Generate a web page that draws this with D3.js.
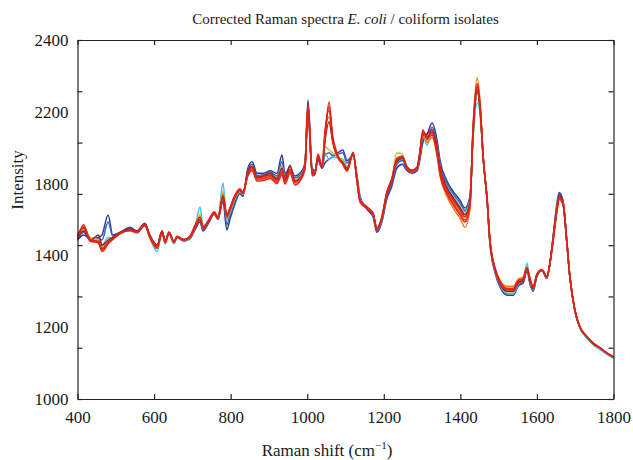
<!DOCTYPE html>
<html>
<head>
<meta charset="utf-8">
<script src="https://cdn.jsdelivr.net/npm/d3@7"></script>
<style>
  body { margin: 0; background: #fff; }
  svg { display: block; font-family: "Liberation Serif", "Times New Roman", serif; }
</style>
</head>
<body>
<svg id="chart" width="633" height="460"></svg>
<script>
var width = 633;
var height = 460;

// wavenumbers shared by all spectra
var shift = [400, 416, 433, 455, 464, 480, 492, 511, 537, 555,
  576, 589, 608, 621, 629, 639, 652, 660, 678, 694,
  707, 720, 728, 744, 757, 767, 780, 790, 798, 811,
  824, 832, 845, 856, 869, 885, 903, 921, 934, 942,
  955, 968, 981, 994, 1002, 1013, 1020, 1028, 1039, 1046,
  1057, 1067, 1080, 1093, 1104, 1120, 1130, 1138, 1156, 1172,
  1182, 1195, 1208, 1221, 1234, 1248, 1261, 1274, 1287, 1294,
  1302, 1313, 1326, 1339, 1347, 1365, 1381, 1399, 1412, 1425,
  1433, 1444, 1451, 1460, 1470, 1477, 1491, 1504, 1522, 1538,
  1551, 1564, 1574, 1582, 1590, 1600, 1613, 1626, 1634, 1642,
  1652, 1658, 1668, 1679, 1686, 1699, 1712, 1731, 1746, 1765,
  1783, 1800];

var isolateB1 = [1620, 1640, 1625, 1630, 1640, 1718, 1640, 1650, 1670, 1655,
  1685, 1640, 1600, 1655, 1615, 1650, 1610, 1630, 1615, 1625,
  1660, 1690, 1655, 1690, 1722, 1700, 1770, 1659, 1700, 1760,
  1800, 1790, 1900, 1925, 1880, 1880, 1890, 1880, 1952, 1880,
  1900, 1870, 1880, 1920, 2166, 1900, 1890, 1930, 1900, 1920,
  1935, 1945, 1960, 1971, 1930, 1950, 1870, 1790, 1740, 1710,
  1650, 1690, 1780, 1830, 1900, 1915, 1890, 1880, 1890, 1930,
  2000, 2030, 2076, 2010, 1930, 1850, 1810, 1775, 1745, 1790,
  2020, 2195, 2150, 1940, 1770, 1610, 1490, 1435, 1405, 1405,
  1440, 1452, 1500, 1448, 1420, 1478, 1500, 1470, 1530, 1630,
  1760, 1805, 1775, 1600, 1478, 1345, 1280, 1238, 1215, 1195,
  1176, 1162];

var isolateB2 = [1625, 1650, 1622, 1625, 1620, 1690, 1635, 1648, 1665, 1652,
  1682, 1636, 1590, 1652, 1610, 1648, 1608, 1630, 1618, 1628,
  1665, 1700, 1660, 1695, 1720, 1702, 1790, 1680, 1715, 1770,
  1805, 1795, 1890, 1915, 1872, 1875, 1885, 1870, 1925, 1872,
  1905, 1862, 1872, 1912, 2140, 1890, 1885, 1935, 1900, 1950,
  1960, 1950, 1955, 1960, 1920, 1955, 1865, 1785, 1745, 1718,
  1655, 1695, 1790, 1840, 1915, 1930, 1895, 1885, 1895, 1940,
  2020, 2010, 2060, 1995, 1915, 1840, 1800, 1765, 1735, 1780,
  2030, 2205, 2145, 1936, 1772, 1615, 1495, 1440, 1410, 1410,
  1445, 1456, 1505, 1452, 1425, 1480, 1502, 1472, 1530, 1625,
  1750, 1798, 1770, 1597, 1477, 1346, 1280, 1240, 1216, 1196,
  1177, 1163];

var isolateC = [1630, 1655, 1630, 1622, 1600, 1630, 1628, 1650, 1660, 1648,
  1676, 1628, 1575, 1648, 1605, 1645, 1605, 1628, 1616, 1630,
  1672, 1749, 1672, 1700, 1724, 1705, 1842, 1700, 1725, 1780,
  1808, 1798, 1875, 1900, 1865, 1870, 1880, 1862, 1910, 1862,
  1900, 1855, 1866, 1908, 2130, 1885, 1880, 1945, 1905, 1960,
  1935, 1945, 1940, 1935, 1905, 1950, 1860, 1780, 1748, 1722,
  1662, 1700, 1800, 1850, 1925, 1940, 1900, 1890, 1900, 1950,
  2030, 1990, 2045, 1985, 1905, 1830, 1790, 1755, 1728, 1775,
  2010, 2154, 2120, 1930, 1770, 1612, 1498, 1445, 1412, 1410,
  1448, 1462, 1530, 1458, 1428, 1482, 1503, 1474, 1528, 1622,
  1745, 1792, 1766, 1598, 1478, 1344, 1278, 1236, 1213, 1193,
  1174, 1158];

var isolateG = [1635, 1660, 1628, 1618, 1595, 1620, 1626, 1648, 1660, 1650,
  1678, 1630, 1585, 1650, 1610, 1646, 1610, 1630, 1618, 1630,
  1670, 1720, 1668, 1698, 1724, 1705, 1810, 1705, 1730, 1782,
  1810, 1800, 1878, 1902, 1864, 1868, 1876, 1858, 1905, 1858,
  1898, 1852, 1864, 1906, 2135, 1883, 1882, 1950, 1905, 1985,
  1971, 1960, 1945, 1930, 1900, 1955, 1858, 1778, 1748, 1724,
  1664, 1705, 1805, 1858, 1959, 1955, 1905, 1892, 1902, 1955,
  2035, 2005, 2020, 1978, 1900, 1825, 1785, 1750, 1722, 1770,
  2025, 2190, 2130, 1932, 1774, 1617, 1500, 1448, 1418, 1417,
  1452, 1462, 1515, 1460, 1430, 1483, 1503, 1475, 1530, 1620,
  1740, 1790, 1765, 1596, 1477, 1346, 1280, 1240, 1216, 1197,
  1178, 1163];

var isolateO = [1640, 1670, 1625, 1612, 1588, 1610, 1622, 1645, 1657, 1650,
  1680, 1630, 1590, 1650, 1612, 1648, 1612, 1632, 1620, 1632,
  1672, 1705, 1668, 1700, 1726, 1708, 1800, 1712, 1740, 1790,
  1814, 1802, 1872, 1895, 1855, 1858, 1865, 1845, 1880, 1845,
  1885, 1842, 1855, 1900, 2128, 1878, 1878, 1950, 1908, 2030,
  2100, 2000, 1940, 1915, 1890, 1958, 1850, 1770, 1745, 1722,
  1664, 1708, 1808, 1860, 1940, 1948, 1902, 1888, 1898, 1952,
  2030, 2000, 2020, 1950, 1870, 1790, 1745, 1705, 1670, 1740,
  2060, 2252, 2170, 1940, 1780, 1625, 1510, 1462, 1440, 1440,
  1468, 1475, 1515, 1470, 1440, 1488, 1505, 1478, 1528, 1612,
  1728, 1778, 1758, 1592, 1476, 1348, 1283, 1244, 1220, 1200,
  1180, 1165];

var isolateDR = [1625, 1655, 1618, 1640, 1600, 1620, 1630, 1650, 1662, 1655,
  1683, 1635, 1600, 1655, 1616, 1650, 1614, 1634, 1622, 1634,
  1675, 1700, 1670, 1700, 1728, 1708, 1785, 1715, 1742, 1790,
  1815, 1805, 1885, 1908, 1866, 1870, 1880, 1860, 1900, 1860,
  1912, 1850, 1860, 1905, 2140, 1880, 1880, 1940, 1903, 2000,
  2080, 2000, 1945, 1922, 1900, 1955, 1855, 1775, 1748, 1722,
  1662, 1705, 1800, 1850, 1925, 1938, 1902, 1890, 1902, 1955,
  2030, 2035, 2050, 1985, 1905, 1825, 1785, 1745, 1718, 1768,
  2030, 2205, 2140, 1932, 1775, 1618, 1500, 1448, 1420, 1420,
  1452, 1460, 1508, 1460, 1430, 1482, 1502, 1475, 1530, 1625,
  1745, 1795, 1768, 1596, 1477, 1346, 1281, 1241, 1217, 1198,
  1178, 1163];

var isolateR3 = [1638, 1672, 1622, 1608, 1580, 1608, 1624, 1646, 1656, 1648,
  1676, 1628, 1588, 1648, 1608, 1644, 1610, 1630, 1618, 1630,
  1668, 1702, 1664, 1695, 1722, 1704, 1792, 1708, 1735, 1785,
  1812, 1800, 1876, 1898, 1858, 1860, 1868, 1848, 1885, 1848,
  1888, 1845, 1858, 1902, 2145, 1876, 1878, 1948, 1906, 2020,
  2140, 2005, 1942, 1916, 1892, 1956, 1850, 1772, 1746, 1720,
  1662, 1707, 1805, 1856, 1936, 1946, 1903, 1890, 1900, 1955,
  2040, 2018, 2035, 1962, 1882, 1805, 1765, 1725, 1698, 1755,
  2050, 2225, 2148, 1936, 1776, 1620, 1505, 1455, 1430, 1428,
  1460, 1468, 1510, 1466, 1435, 1485, 1503, 1477, 1530, 1618,
  1735, 1785, 1762, 1594, 1476, 1347, 1282, 1242, 1218, 1199,
  1179, 1164];

var isolateR2 = [1628, 1680, 1615, 1610, 1575, 1605, 1622, 1644, 1658, 1652,
  1682, 1634, 1598, 1654, 1615, 1650, 1615, 1635, 1622, 1636,
  1678, 1710, 1672, 1702, 1730, 1710, 1795, 1718, 1745, 1795,
  1820, 1808, 1870, 1890, 1850, 1852, 1860, 1840, 1875, 1838,
  1880, 1835, 1850, 1895, 2120, 1870, 1875, 1955, 1910, 2040,
  2125, 2020, 1950, 1918, 1888, 1962, 1848, 1768, 1742, 1718,
  1660, 1706, 1806, 1858, 1935, 1945, 1900, 1885, 1898, 1960,
  2050, 2015, 2030, 1955, 1875, 1800, 1758, 1718, 1690, 1750,
  2045, 2230, 2155, 1935, 1778, 1622, 1508, 1458, 1432, 1432,
  1462, 1470, 1512, 1468, 1437, 1486, 1504, 1478, 1530, 1616,
  1732, 1782, 1760, 1594, 1476, 1347, 1282, 1243, 1219, 1199,
  1180, 1164];

var isolateR1 = [1633, 1667, 1620, 1615, 1585, 1612, 1625, 1647, 1659, 1651,
  1679, 1632, 1593, 1651, 1612, 1647, 1612, 1632, 1620, 1632,
  1671, 1698, 1667, 1698, 1725, 1706, 1788, 1712, 1737, 1788,
  1815, 1803, 1881, 1905, 1862, 1866, 1874, 1854, 1895, 1854,
  1895, 1850, 1862, 1905, 2150, 1881, 1881, 1944, 1905, 2010,
  2158, 2010, 1944, 1920, 1895, 1960, 1854, 1776, 1749, 1725,
  1667, 1710, 1803, 1854, 1932, 1944, 1905, 1893, 1905, 1959,
  2041, 2022, 2041, 1971, 1893, 1815, 1776, 1737, 1710, 1760,
  2040, 2217, 2139, 1932, 1776, 1620, 1503, 1452, 1425, 1425,
  1456, 1464, 1511, 1464, 1433, 1484, 1503, 1476, 1530, 1620,
  1737, 1788, 1764, 1593, 1476, 1347, 1281, 1242, 1218, 1199,
  1179, 1164];

// drawn in this order, reds last
var spectra = [isolateB1, isolateB2, isolateC, isolateG, isolateO, isolateDR, isolateR3, isolateR2, isolateR1];
var spectraColors = ["#2c3f98", "#3b63bc", "#3ec4e8", "#a6cb3c", "#f07c22", "#9e1f22", "#f0381e", "#e42a1c", "#d9231b"];

var xTicks = [400, 600, 800, 1000, 1200, 1400, 1600, 1800];
var yTicks = [1000, 1200, 1400, 1600, 1800, 2000, 2200, 2400];
var yLabels = ["2400", "2200", "1800", "1400", "1200", "1000"];

var margin = { top: 40, right: 19.5, bottom: 61, left: 77.5 };
var plotW = width - margin.left - margin.right;
var plotH = height - margin.top - margin.bottom;

var svg = d3.select("#chart");

var x = d3.scaleLinear().domain([400, 1800]).range([margin.left, margin.left + plotW]);
var y = d3.scaleLinear().domain([1000, 2400]).range([margin.top + plotH, margin.top]);
// the tick labels of the original figure are spaced evenly, not on the ticks
var yLab = d3.scalePoint().domain(yLabels).range([margin.top, margin.top + plotH]);

var line = d3.line()
  .x((d, i) => x(shift[i]))
  .y(d => y(d))
  .curve(d3.curveMonotoneX);

svg.append("g")
  .selectAll("path")
  .data(spectra)
  .enter()
  .append("path")
  .attr("d", line)
  .attr("fill", "none")
  .attr("stroke", (d, i) => spectraColors[i])
  .attr("stroke-width", 1.5)
  .attr("stroke-linejoin", "round");

function styleAxis(g) {
  g.select(".domain").attr("stroke", "#222").attr("stroke-width", 1.2);
  g.selectAll(".tick line").attr("stroke", "#222").attr("stroke-width", 1.2);
  g.selectAll("text").attr("fill", "#1a1a1a").style("font-size", "17px");
}

svg.append("g")
  .attr("transform", `translate(0,${margin.top + plotH})`)
  .call(d3.axisBottom(x).tickValues(xTicks).tickSizeInner(-5).tickSizeOuter(0).tickPadding(12).tickFormat(d3.format("d")))
  .call(styleAxis)
  .call(g => g.attr("font-family", null));

svg.append("g")
  .attr("transform", `translate(0,${margin.top})`)
  .call(d3.axisTop(x).tickValues(xTicks).tickSizeInner(-5).tickSizeOuter(0).tickFormat(""))
  .call(styleAxis);

svg.append("g")
  .attr("transform", `translate(${margin.left},0)`)
  .call(d3.axisLeft(y).tickValues(yTicks).tickSizeInner(-5).tickSizeOuter(0).tickFormat(""))
  .call(styleAxis);

svg.append("g")
  .attr("transform", `translate(${margin.left + plotW},0)`)
  .call(d3.axisRight(y).tickValues(yTicks).tickSizeInner(-5).tickSizeOuter(0).tickFormat(""))
  .call(styleAxis);

svg.append("g")
  .attr("transform", `translate(${margin.left},0)`)
  .call(d3.axisLeft(yLab).tickSize(0).tickPadding(9))
  .call(styleAxis)
  .call(g => g.select(".domain").remove())
  .call(g => g.attr("font-family", null));

svg.append("text")
  .attr("x", margin.left + plotW / 2)
  .attr("y", 24)
  .attr("text-anchor", "middle")
  .style("font-size", "15px")
  .attr("fill", "#1a1a1a")
  .call(t => {
    t.append("tspan").text("Corrected Raman spectra ");
    t.append("tspan").style("font-style", "italic").text("E. coli");
    t.append("tspan").text(" / coliform isolates");
  });

svg.append("text")
  .attr("x", 327)
  .attr("y", 456)
  .attr("text-anchor", "middle")
  .style("font-size", "17px")
  .attr("fill", "#1a1a1a")
  .call(t => {
    t.append("tspan").text("Raman shift (cm");
    t.append("tspan").attr("dy", -7).style("font-size", "11px").text("\u22121");
    t.append("tspan").attr("dy", 7).text(")");
  });

svg.append("text")
  .attr("transform", "rotate(-90)")
  .attr("x", -180)
  .attr("y", 23)
  .attr("text-anchor", "middle")
  .style("font-size", "17px")
  .attr("fill", "#1a1a1a")
  .text("Intensity");
</script>
</body>
</html>
